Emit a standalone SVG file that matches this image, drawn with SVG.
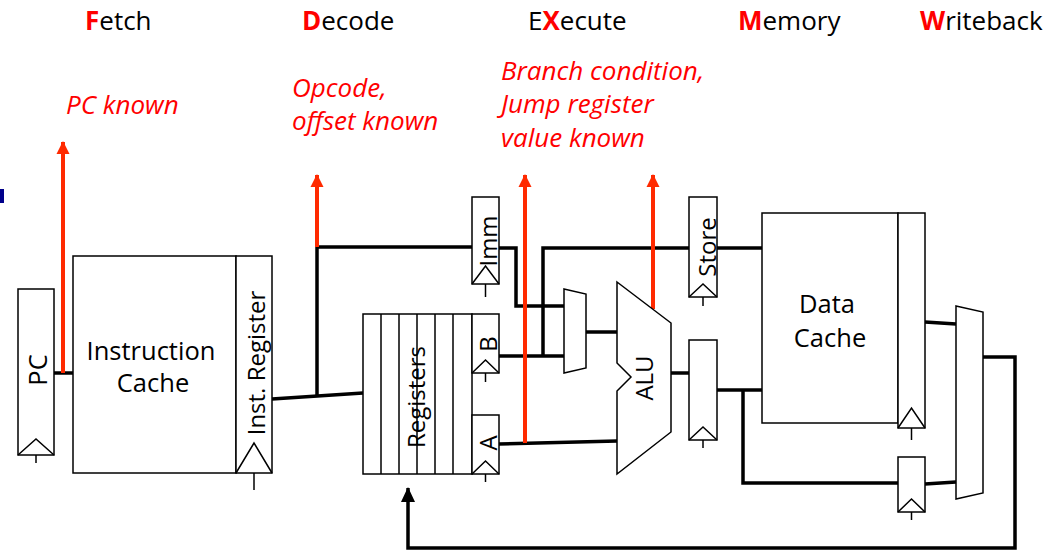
<svg xmlns="http://www.w3.org/2000/svg" width="1063" height="553" viewBox="0 0 1063 553">
<style>
.box{fill:#fff;stroke:#000;stroke-width:1.5}
.tri{fill:none;stroke:#000;stroke-width:1.5;stroke-linejoin:miter}
.tick{stroke:#000;stroke-width:1.5}
.wire{fill:none;stroke:#000;stroke-width:3.5;stroke-linejoin:miter}
.red{fill:none;stroke:#ff2a00;stroke-width:4}
.hdr{font-family:"Open Sans","Liberation Sans",sans-serif;font-size:26px;fill:#000}
.hl{fill:#ff0000;font-weight:bold}
.note{font-family:"Open Sans","Liberation Sans",sans-serif;font-size:26px;font-style:italic;fill:#ff0000}
.lbl{font-family:"Open Sans","Liberation Sans",sans-serif;font-size:24px;fill:#000}
.big{font-size:25.5px}
</style>
<defs>
<marker id="rh" markerUnits="userSpaceOnUse" markerWidth="14" markerHeight="14" viewBox="0 0 14 14" refX="12" refY="7" orient="auto">
<path d="M0,0.5 L13,7 L0,13.5 z" fill="#ff2a00"/>
</marker>
<marker id="bh" markerUnits="userSpaceOnUse" markerWidth="16" markerHeight="16" viewBox="0 0 16 16" refX="14" refY="8" orient="auto">
<path d="M0,1 L15,8 L0,15 z" fill="#000"/>
</marker>
</defs>
<rect x="0" y="189" width="4" height="14" fill="#00008b"/>
<g id="stage-labels">
<text class="hdr" x="85" y="30"><tspan class="hl">F</tspan>etch</text>
<text class="hdr" x="302" y="30"><tspan class="hl">D</tspan>ecode</text>
<text class="hdr" x="528" y="30">E<tspan class="hl">X</tspan>ecute</text>
<text class="hdr" x="738" y="30"><tspan class="hl">M</tspan>emory</text>
<text class="hdr" x="920" y="30"><tspan class="hl">W</tspan>riteback</text>
</g>
<g id="notes">
<text class="note" x="66" y="114">PC known</text>
<text class="note" x="292" y="97">Opcode,</text>
<text class="note" x="292" y="130">offset known</text>
<text class="note" x="501" y="80">Branch condition,</text>
<text class="note" x="501" y="113">Jump register</text>
<text class="note" x="501" y="147">value known</text>
</g>
<g id="connectors">
<path class="wire" d="M54,373 L73,373"/>
<path class="wire" d="M272,399 L363,393"/>
<path class="wire" d="M317,396 L317,247 L472,247"/>
<path class="wire" d="M499,248 L516,248 L516,306 L564,306"/>
<path class="wire" d="M499,356 L564,356"/>
<path class="wire" d="M543,356 L543,248 L689,248"/>
<path class="wire" d="M717,248 L762,248"/>
<path class="wire" d="M586,332 L617,332"/>
<path class="wire" d="M499,444 L617,441"/>
<path class="wire" d="M671,373 L689,373"/>
<path class="wire" d="M717,390 L762,390"/>
<path class="wire" d="M743,390 L743,483 L898,483"/>
<path class="wire" d="M925,322 L956,324"/>
<path class="wire" d="M925,484 L956,482"/>
<path class="wire" d="M983,357 L1015,357 L1015,548 L408,548 L408,488" marker-end="url(#bh)"/>
<path class="red" d="M63,373 L63,142" marker-end="url(#rh)"/>
<path class="red" d="M317,247 L317,175" marker-end="url(#rh)"/>
<path class="red" d="M525,443 L525,175" marker-end="url(#rh)"/>
<path class="red" d="M653,309 L653,175" marker-end="url(#rh)"/>
</g>
<g id="pc">
<rect class="box" x="18" y="289" width="36" height="166"/>
<path class="tri" d="M18,455 L36,439 L54,455"/>
<line class="tick" x1="36" y1="455" x2="36" y2="463"/>
<text class="lbl big" transform="translate(47,370) rotate(-90)" text-anchor="middle">PC</text>
</g>
<g id="instruction-cache">
<rect class="box" x="73" y="256" width="163" height="217"/>
<text class="lbl big" x="151" y="360" text-anchor="middle">Instruction</text>
<text class="lbl big" x="153" y="392" text-anchor="middle">Cache</text>
</g>
<g id="inst-register">
<rect class="box" x="236" y="256" width="36" height="217"/>
<path class="tri" d="M236,473 L254,443 L272,473"/>
<line class="tick" x1="254" y1="473" x2="254" y2="490"/>
<text class="lbl" transform="translate(265,363) rotate(-90)" text-anchor="middle" font-size="25">Inst. Register</text>
</g>
<g id="registers">
<rect class="box" x="363" y="314" width="109" height="160"/>
<path class="tick" d="M381,314 V474 M399,314 V474 M417,314 V474 M435,314 V474 M453,314 V474" fill="none"/>
<text class="lbl" transform="translate(425,397) rotate(-90)" text-anchor="middle">Registers</text>
</g>
<g id="imm">
<rect class="box" x="472" y="197" width="27" height="87"/>
<path class="tri" d="M472,284 L485.5,266 L499,284"/>
<line class="tick" x1="485.5" y1="284" x2="485.5" y2="297"/>
<text class="lbl" transform="translate(497,241) rotate(-90)" text-anchor="middle">Imm</text>
</g>
<g id="reg-b">
<rect class="box" x="472" y="314" width="27" height="59"/>
<path class="tri" d="M472,373 L485.5,360 L499,373"/>
<line class="tick" x1="485.5" y1="373" x2="485.5" y2="382"/>
<text class="lbl" transform="translate(497,344) rotate(-90)" text-anchor="middle">B</text>
</g>
<g id="reg-a">
<rect class="box" x="472" y="415" width="27" height="59"/>
<path class="tri" d="M472,474 L485.5,461 L499,474"/>
<line class="tick" x1="485.5" y1="474" x2="485.5" y2="482"/>
<text class="lbl" transform="translate(497,443) rotate(-90)" text-anchor="middle">A</text>
</g>
<g id="mux-alu">
<path class="box" d="M564,289 L586,294 L586,368 L564,373 Z"/>
</g>
<g id="alu">
<path class="box" d="M617,282 L671,323 L671,432 L617,474 L617,391 L631,377 L617,363 Z"/>
<text class="lbl" transform="translate(653,378) rotate(-90)" text-anchor="middle">ALU</text>
</g>
<g id="store">
<rect class="box" x="689" y="197" width="28" height="100"/>
<path class="tri" d="M689,297 L703,284 L717,297"/>
<line class="tick" x1="703" y1="297" x2="703" y2="306"/>
<text class="lbl" transform="translate(716,247) rotate(-90)" text-anchor="middle">Store</text>
</g>
<g id="alu-out-reg">
<rect class="box" x="689" y="340" width="28" height="100"/>
<path class="tri" d="M689,440 L703,427 L717,440"/>
<line class="tick" x1="703" y1="440" x2="703" y2="448"/>
</g>
<g id="data-cache">
<rect class="box" x="762" y="213" width="136" height="210"/>
<text class="lbl big" x="827" y="313" text-anchor="middle">Data</text>
<text class="lbl big" x="830" y="347" text-anchor="middle">Cache</text>
</g>
<g id="data-cache-reg">
<rect class="box" x="898" y="213" width="27" height="215"/>
<path class="tri" d="M898,428 L911.5,408 L925,428"/>
<line class="tick" x1="911.5" y1="428" x2="911.5" y2="440"/>
</g>
<g id="bypass-reg">
<rect class="box" x="898" y="457" width="27" height="55"/>
<path class="tri" d="M898,512 L911.5,499 L925,512"/>
<line class="tick" x1="911.5" y1="512" x2="911.5" y2="520"/>
</g>
<g id="mux-wb">
<path class="box" d="M956,306 L983,312 L983,493 L956,499 Z"/>
</g>
</svg>
